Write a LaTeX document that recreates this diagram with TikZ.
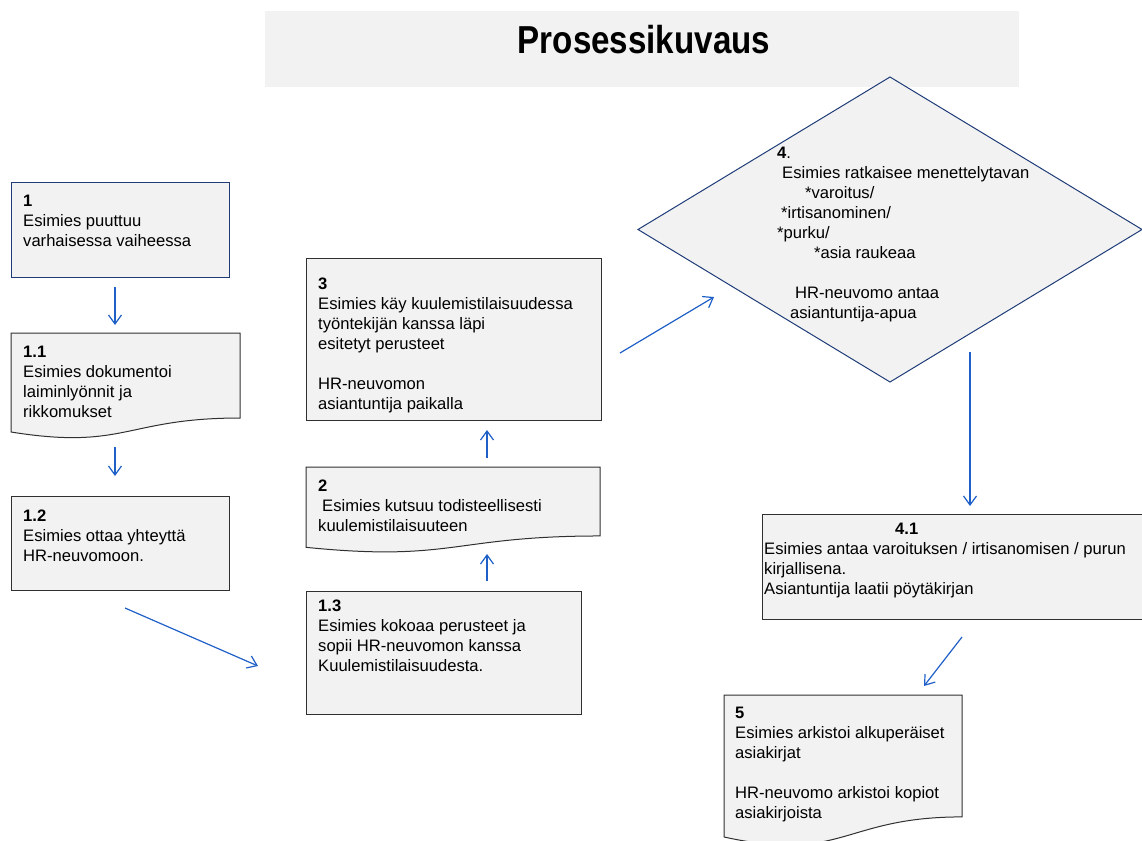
\documentclass[tikz,border=0pt]{standalone}
\usepackage{fontspec}
\usepackage{graphicx}
\setmainfont{Liberation Sans}
\usetikzlibrary{arrows.meta,shapes.geometric,calc}
\definecolor{boxfill}{HTML}{F2F2F2}
\definecolor{boxgray}{HTML}{303030}
\definecolor{navy}{HTML}{1F3C78}
\definecolor{arrowblue}{HTML}{1F5FC8}
\newcommand{\docshape}[2]{%
  \draw[#2] (#1.north west) -- (#1.north east)
    -- ($(#1.north east)!0.802!(#1.south east)$)
    .. controls ($(#1.north)!0.802!(#1.south)$) and ($(#1.north)!1.107!(#1.south)$)
    .. ($(#1.north west)!0.934!(#1.south west)$) -- cycle;}
\begin{document}
\begin{tikzpicture}[x=1pt,y=-1pt,
  boxstyle/.style={draw=boxgray, fill=boxfill, line width=1pt},
  navystyle/.style={draw=navy, fill=boxfill, line width=1pt},
  rbox/.style={boxstyle, anchor=north west, inner sep=0pt, outer sep=0pt},
  nbox/.style={navystyle, anchor=north west, inner sep=0pt, outer sep=0pt},
  dbox/.style={anchor=north west, inner sep=0pt, outer sep=0pt},
  txt/.style={anchor=north west, inner sep=0pt, align=left, font=\fontsize{16.6}{20}\selectfont},
  arr/.style={draw=arrowblue, line width=1.2pt, -{Straight Barb[length=9pt,width=13pt]}}]
\useasboundingbox (0,0) rectangle (1142,840);

% title band
\node[fill=boxfill, anchor=north west, inner sep=0pt, minimum width=754pt, minimum height=76pt] (title) at (265,11) {};
\node[inner sep=0pt, font=\fontsize{39}{44}\selectfont\bfseries] (titletext) at (644,40) {\scalebox{0.85}[1]{Prosessikuvaus}};

% boxes
\node[nbox, minimum width=218pt, minimum height=95pt] (b1) at (11,182) {};
\node[txt] (t1) at (23,192) {\strut\textbf{1}\\Esimies puuttuu\\varhaisessa vaiheessa};

\node[dbox, minimum width=229pt, minimum height=106pt] (b11) at (11,333) {};
\docshape{b11}{boxstyle}
\node[txt] (t11) at (23,343) {\strut\textbf{1.1}\\Esimies dokumentoi\\laiminlyönnit ja\\rikkomukset};

\node[rbox, minimum width=218pt, minimum height=94pt] (b12) at (11,496) {};
\node[txt] (t12) at (23,507) {\strut\textbf{1.2}\\Esimies ottaa yhteyttä\\HR-neuvomoon.};

\node[rbox, minimum width=275pt, minimum height=123pt] (b13) at (306,591) {};
\node[txt] (t13) at (318,597) {\strut\textbf{1.3}\\Esimies kokoaa perusteet ja\\sopii HR-neuvomon kanssa\\Kuulemistilaisuudesta.};

\node[dbox, minimum width=294pt, minimum height=86pt] (b2) at (306,467) {};
\docshape{b2}{boxstyle}
\node[txt] (t2) at (318,477) {\strut\textbf{2}\\\hspace*{4pt}Esimies kutsuu todisteellisesti\\kuulemistilaisuuteen};

\node[rbox, minimum width=295pt, minimum height=162pt] (b3) at (306,258) {};
\node[txt] (t3) at (318,275) {\strut\textbf{3}\\Esimies käy kuulemistilaisuudessa\\työntekijän kanssa läpi\\esitetyt perusteet\\[20pt]HR-neuvomon\\asiantuntija paikalla};

\node[diamond, navystyle, inner sep=0pt, outer sep=0pt, minimum width=504pt, minimum height=305pt] (b4) at (890,229.5) {};
\node[txt] (t4) at (777,144) {\strut\textbf{4}.\\
\hspace*{5pt}Esimies ratkaisee menettelytavan\\
\hspace*{28pt}*varoitus/\\
\hspace*{4pt}*irtisanominen/\\
*purku/\\
\hspace*{37pt}*asia raukeaa\\[20pt]
\hspace*{18pt}HR-neuvomo antaa\\
\hspace*{13pt}asiantuntija-apua};

\node[rbox, minimum width=400pt, minimum height=105pt] (b41) at (762,514) {};
\node[txt] (t41) at (764,520) {\strut\hspace*{131pt}\textbf{4.1}\\Esimies antaa varoituksen / irtisanomisen / purun\\kirjallisena.\\Asiantuntija laatii pöytäkirjan};

\node[dbox, minimum width=238pt, minimum height=152pt] (b5) at (724,695) {};
\docshape{b5}{boxstyle}
\node[txt] (t5) at (735,704) {\strut\textbf{5}\\Esimies arkistoi alkuperäiset\\asiakirjat\\[20pt]HR-neuvomo arkistoi kopiot\\asiakirjoista};

% connector end points
\coordinate (a1s) at (115,287);  \coordinate (a1e) at (115,325);
\coordinate (a2s) at (115,447);  \coordinate (a2e) at (115,476);
\coordinate (a3s) at (125,608);  \coordinate (a3e) at (258,666);
\coordinate (a4s) at (487,581);  \coordinate (a4e) at (487,554);
\coordinate (a5s) at (487,458);  \coordinate (a5e) at (487,430);
\coordinate (a6s) at (620,353);  \coordinate (a6e) at (714,297);
\coordinate (a7s) at (970,352);  \coordinate (a7e) at (970,506);
\coordinate (a8s) at (962,637);  \coordinate (a8e) at (924,686);

\draw[arr] (a1s) -- (a1e);
\draw[arr] (a2s) -- (a2e);
\draw[arr] (a3s) -- (a3e);
\draw[arr] (a4s) -- (a4e);
\draw[arr] (a5s) -- (a5e);
\draw[arr] (a6s) -- (a6e);
\draw[arr] (a7s) -- (a7e);
\draw[arr] (a8s) -- (a8e);
\end{tikzpicture}
\end{document}
